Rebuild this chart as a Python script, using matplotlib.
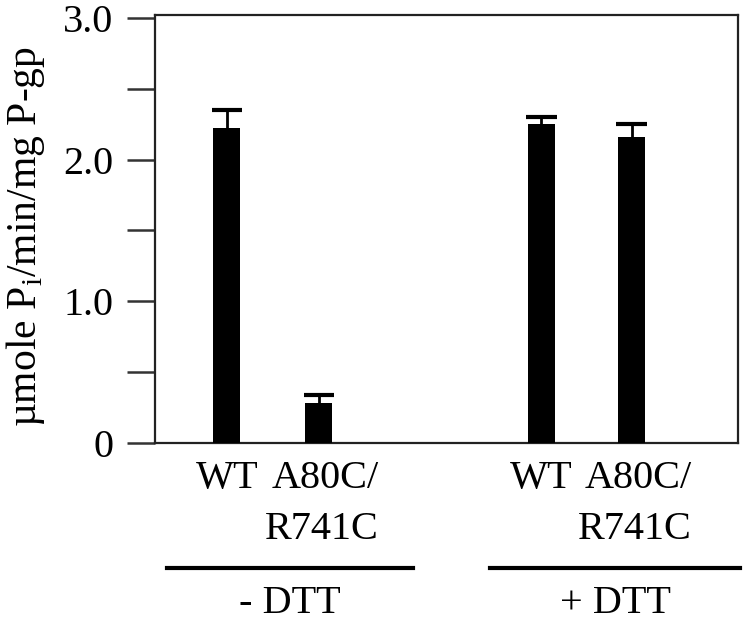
import numpy as np
import matplotlib.pyplot as plt
from matplotlib.transforms import blended_transform_factory

# data
bar_labels = ["WT", "A80C/\nR741C", "WT", "A80C/\nR741C"]
activity = [2.22, 0.28, 2.25, 2.16]
errors = [0.13, 0.06, 0.05, 0.09]
groups = ["- DTT", "+ DTT"]

plt.rcParams['font.family'] = ['Liberation Serif', 'DejaVu Serif']

fig = plt.figure(figsize=(7.5, 6.22), dpi=100)
ax = fig.add_axes([0.2067, 0.2878, 0.7773, 0.6881])

xpos = np.array([0.78, 1.78, 4.2, 5.18])
act = np.array(activity)
err = np.array(errors)
ax.bar(xpos, act, width=0.29, color='black', zorder=3)
# upper error bars only
ax.vlines(xpos, act, act + err, color='black', lw=2, zorder=2)
ax.hlines(act + err, xpos - 0.165, xpos + 0.165, color='black', lw=3, zorder=2)

ax.set_xlim(0, 6.337)
ax.set_ylim(0, 3.02)
ax.set_yticks([0, 1.0, 2.0, 3.0])
ax.set_yticklabels(["0", "1.0", "2.0", "3.0"])
ax.set_yticks([0.5, 1.5, 2.5], minor=True)
ax.tick_params(axis='y', which='both', direction='out', length=20, width=1.8,
               color='#333333', labelsize=29, pad=10)
ax.set_xticks([])
for s in ax.spines.values():
    s.set_linewidth(1.6)
    s.set_color('#222222')

fig.text(0.034, 0.62, "µmole P$_\\mathregular{i}$/min/mg P-gp", fontsize=30,
         rotation=90, ha='center', va='center')

# category labels under bars
trans = blended_transform_factory(ax.transData, fig.transFigure)
for x, lab in zip(xpos, bar_labels):
    if "\n" in lab:
        ax.text(x + 0.03, 0.26, lab, transform=trans, ha='center', va='top',
                multialignment='right', fontsize=29, linespacing=1.5)
    else:
        ax.text(x, 0.26, lab, transform=trans, ha='center', va='top', fontsize=29)

# group bars and labels
spans = [(0.13, 2.8), (3.64, 6.36)]
for (x0, x1), g in zip(spans, groups):
    ax.plot([x0, x1], [0.087, 0.087], color='black', lw=3, transform=trans, clip_on=False)
    ax.text((x0 + x1) / 2, 0.029, g, transform=trans, ha='center', va='center', fontsize=29)

fig.savefig("out.png", dpi=100)
